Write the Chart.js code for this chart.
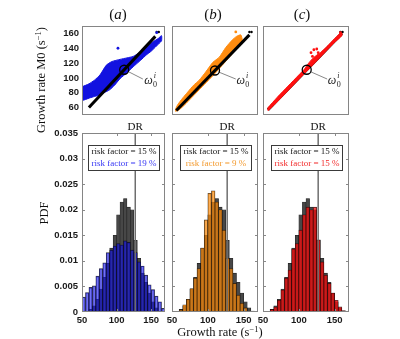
<!DOCTYPE html>
<html>
<head>
<meta charset="utf-8">
<script src="https://cdn.jsdelivr.net/npm/chart.js@4.4.0/dist/chart.umd.min.js"></script>
<style>
  body { margin: 0; background: #fff; }
  #wrap { position: relative; width: 400px; height: 339px; overflow: hidden; background: #fff; }
  canvas { position: absolute; left: 0; top: 0; }
  .lbl { position: absolute; font-family: "Liberation Serif", "Times New Roman", serif; color: #111; white-space: nowrap; transform: translate(-50%, -50%); }
  .rot { transform: translate(-50%, -50%) rotate(-90deg); }
  .sup { font-size: 0.68em; position: relative; top: -0.45em; }
</style>
</head>
<body>
<div id="wrap">
  <canvas id="topA" width="400" height="339"></canvas>
  <canvas id="topB" width="400" height="339"></canvas>
  <canvas id="topC" width="400" height="339"></canvas>
  <canvas id="histA" width="400" height="339"></canvas>
  <canvas id="histB" width="400" height="339"></canvas>
  <canvas id="histC" width="400" height="339"></canvas>

  <div class="lbl" style="left:118px;top:14px;font-size:15px;">(<i>a</i>)</div>
  <div class="lbl" style="left:213px;top:14px;font-size:15px;">(<i>b</i>)</div>
  <div class="lbl" style="left:302px;top:14px;font-size:15px;">(<i>c</i>)</div>
  <div class="lbl rot" style="left:41px;top:80px;font-size:12.5px;">Growth rate M0 (s<span class="sup">−1</span>)</div>
  <div class="lbl rot" style="left:44px;top:213px;font-size:12.5px;">PDF</div>
  <div class="lbl" style="left:220px;top:332px;font-size:12.5px;">Growth rate (s<span class="sup">−1</span>)</div>
</div>

<script>
// axis ticks
const rateTicks = [60, 80, 100, 120, 140, 160];
const growthTicks = [50, 100, 150];
const pdfTicks = [0, 0.005, 0.01, 0.015, 0.02, 0.025, 0.03, 0.035];
const pdfTickLabels = ['0', '0.005', '0.01', '0.015', '0.02', '0.025', '0.03', '0.035'];
const riskLabels = ['risk factor = 15 %', 'risk factor = 19 %', 'risk factor = 9 %', 'risk factor = 15 %'];
const drRate = 127;

// histogram bins (growth rate, s^-1)
const binCenters = [52.5, 57.5, 62.5, 67.5, 72.5, 77.5, 82.5, 87.5, 92.5, 97.5, 102.5, 107.5,
                    112.5, 117.5, 122.5, 127.5, 132.5, 137.5, 142.5, 147.5, 152.5, 157.5, 162.5, 167.5];
// reference run, risk factor 15 % (grey)
const pdfRef15 = [0, 0, 0.0005, 0.0012, 0.0025, 0.0045, 0.0068, 0.0095, 0.0125, 0.0150, 0.0190, 0.0215,
                  0.0222, 0.0205, 0.0200, 0.0140, 0.0105, 0.0076, 0.0058, 0.0037, 0.0020, 0.0008, 0.0002, 0];
const pdfA19 = [0.0029, 0.0038, 0.0048, 0.0051, 0.0070, 0.0085, 0.0096, 0.0116, 0.0121, 0.0129, 0.0134, 0.0131,
                0.0139, 0.0136, 0.0121, 0.0116, 0.0098, 0.0090, 0.0072, 0.0053, 0.0044, 0.0031, 0.0020, 0.0007];
const pdfB9 = [0, 0, 0.0004, 0.0014, 0.0025, 0.0046, 0.0066, 0.0085, 0.0125, 0.0180, 0.0232, 0.0237,
               0.0215, 0.0200, 0.0160, 0.0105, 0.0085, 0.0056, 0.0033, 0.0017, 0.0008, 0, 0, 0];
const pdfC15 = [0, 0, 0.0005, 0.0010, 0.0023, 0.0043, 0.0066, 0.0082, 0.0123, 0.0134, 0.0160, 0.0190,
                0.0205, 0.0200, 0.0205, 0.0141, 0.0098, 0.0072, 0.0056, 0.0037, 0.0023, 0.0010, 0.0003, 0];

// scatter clouds (outline of the dense point clouds), [M, M0]
const cloudATop = [[50, 88], [60, 92], [68, 97], [76, 104], [85, 117], [93, 122], [105, 125], [115, 127],
                   [124, 129], [131, 133], [138, 138], [146, 144], [153, 149], [160, 153], [165, 157]];
const cloudABottom = [[165, 150], [162, 147], [150, 136], [143, 131], [135, 124], [124, 115], [115, 107],
                      [105, 99], [97, 90], [90, 84], [82, 80], [76, 77], [68, 75], [61, 73], [50, 70]];
const cloudBTop = [[55, 58], [58, 64], [65, 73], [72, 81], [80, 90], [88, 97], [97, 108], [107, 121],
                   [116, 128], [125, 141], [134, 151], [140, 156], [146, 158]];
const cloudBBottom = [[148, 150], [140, 139], [130, 128], [120, 117], [110, 106], [100, 96], [90, 86],
                      [80, 76], [70, 66], [60, 57], [55, 55]];
const cloudCTop = [[57, 60], [70, 74], [85, 89], [100, 104], [108, 112], [113, 119], [118, 125], [124, 130],
                   [130, 134], [140, 143], [150, 153], [160, 162]];
const cloudCBottom = [[160, 157], [150, 148], [140, 138], [120, 118], [100, 98], [80, 78], [65, 63], [57, 56]];
const strayA = [[102, 140], [158, 161]];
const strayB = [[139, 162]];
const strayC = [[117, 134], [121, 138], [125, 139], [127, 134], [119, 129], [158, 161]];
const strayBlack = [[158, 162], [161, 162]];

// identity line of the deterministic model, and the marked point
const diagA = [[60, 60], [156, 156]];
const diagB = [[56, 56], [158, 158]];
const diagC = [[57, 57], [160, 160]];
const omegaA = [111, 111];
const omegaB = [110, 110];
const omegaC = [111, 111];
const pointerA = [[117, 108.5], [138, 98.5]];
const pointerB = [[115, 108], [139, 98.5]];
const pointerC = [[116, 108.5], [139.5, 98.5]];

const tickFont = { family: '"Liberation Sans", Arial, sans-serif', size: 9.5, weight: 'bold' };
const serif = '"Liberation Serif", "Times New Roman", serif';

const deco = {
  topA: { omega: [140, 96] },
  topB: { omega: [140, 96] },
  topC: { omega: [140.5, 96] },
  histA: { dr: drRate, legend: [[riskLabels[0], '#111'], [riskLabels[1], '#3434f4']], ticks: true },
  histB: { dr: drRate, legend: [[riskLabels[0], '#111'], [riskLabels[2], '#f39a2e']], ticks: true },
  histC: { dr: drRate, legend: [[riskLabels[0], '#111'], [riskLabels[3], '#f22a2a']], ticks: true }
};

const panelDeco = {
  id: 'panelDeco',
  afterDatasetsDraw(chart) {
    const d = deco[chart.canvas.id] || {};
    const { ctx, chartArea: a } = chart;
    const xs = chart.scales.x, ys = chart.scales.y;
    ctx.save();
    if (d.ticks) {
      ctx.strokeStyle = '#8a8a8a';
      ctx.lineWidth = 1;
      ctx.beginPath();
      growthTicks.slice(1).forEach(v => {
        const px = Math.round(xs.getPixelForValue(v)) + 0.5;
        ctx.moveTo(px, a.top); ctx.lineTo(px, a.top + 3);
        ctx.moveTo(px, a.bottom); ctx.lineTo(px, a.bottom - 3);
      });
      pdfTicks.slice(1, -1).forEach(v => {
        const py = Math.round(ys.getPixelForValue(v)) + 0.5;
        ctx.moveTo(a.left, py); ctx.lineTo(a.left + 3, py);
        ctx.moveTo(a.right, py); ctx.lineTo(a.right - 3, py);
      });
      ctx.stroke();
    }
    if (d.dr !== undefined) {
      const px = xs.getPixelForValue(d.dr);
      ctx.strokeStyle = '#6e6e6e';
      ctx.lineWidth = 1.5;
      ctx.beginPath();
      ctx.moveTo(px, a.top); ctx.lineTo(px, a.bottom);
      ctx.stroke();
      ctx.fillStyle = '#111';
      ctx.font = '11px ' + serif;
      ctx.textAlign = 'center';
      ctx.textBaseline = 'alphabetic';
      ctx.fillText('DR', px, a.top - 3);
    }
    if (d.legend) {
      ctx.font = '9px ' + serif;
      const w = Math.round(Math.max(...d.legend.map(l => ctx.measureText(l[0]).width)) + 6);
      const left = Math.round((a.left + a.right) / 2 - w / 2);
      const top = Math.round(a.top + 12);
      const h = 25;
      ctx.fillStyle = '#fff';
      ctx.fillRect(left, top, w, h);
      ctx.strokeStyle = '#3a3a3a';
      ctx.lineWidth = 1;
      ctx.strokeRect(left + 0.5, top + 0.5, w, h);
      ctx.textAlign = 'center';
      ctx.textBaseline = 'middle';
      d.legend.forEach((l, i) => {
        ctx.fillStyle = l[1];
        ctx.fillText(l[0], left + w / 2 + 0.5, top + 7 + i * 11.5);
      });
    }
    if (d.omega) {
      const px = xs.getPixelForValue(d.omega[0]);
      const py = ys.getPixelForValue(d.omega[1]);
      ctx.fillStyle = '#222';
      ctx.textAlign = 'left';
      ctx.textBaseline = 'middle';
      ctx.font = 'italic 12px ' + serif;
      ctx.fillText('ω', px, py);
      const w = ctx.measureText('ω').width;
      ctx.font = '8px ' + serif;
      ctx.fillText('0', px + w + 0.3, py + 4);
      ctx.font = 'italic 8px ' + serif;
      ctx.fillText('i', px + w + 1, py - 5);
    }
    // axes frame
    ctx.strokeStyle = '#858585';
    ctx.lineWidth = 1;
    ctx.strokeRect(a.left + 0.5, a.top + 0.5, a.right - a.left - 1, a.bottom - a.top - 1);
    ctx.restore();
  }
};
Chart.register(panelDeco);

const toXY = pts => pts.map(p => ({ x: p[0], y: p[1] }));

function scatterPanel(id, plot, showY, cloud, colour, diag, omega, pointer, stray, cloudOnTop) {
  const polygon = cloud[0].concat(cloud[1], [cloud[0][0]]);
  return new Chart(document.getElementById(id), {
    type: 'scatter',
    data: {
      datasets: [
        { data: toXY([omega]), pointRadius: 4.5, pointBackgroundColor: 'rgba(0,0,0,0)',
          pointBorderColor: '#000', pointBorderWidth: 1.3, order: 0 },
        { data: toXY(pointer), showLine: true, borderColor: '#7a7a7a', borderWidth: 0.9,
          pointRadius: 0, order: 1 },
        { data: toXY(stray), pointRadius: 1.4, pointBackgroundColor: colour, pointBorderWidth: 0, order: 2 },
        { data: toXY(strayBlack), pointRadius: 1.2, pointBackgroundColor: '#000', pointBorderWidth: 0, order: 3 },
        { data: toXY(diag), showLine: true, borderColor: '#000', borderWidth: 3, pointRadius: 0,
          order: cloudOnTop ? 5 : 4 },
        { data: toXY(polygon), showLine: true, fill: 'shape', backgroundColor: colour, borderColor: colour,
          borderWidth: 1, pointRadius: 0, tension: 0.2, order: cloudOnTop ? 4 : 5 }
      ]
    },
    options: {
      responsive: false, animation: false, devicePixelRatio: 1,
      layout: { padding: { left: showY ? plot.l - 40 : plot.l, right: 400 - plot.r, top: plot.t, bottom: 339 - plot.b } },
      plugins: { legend: { display: false }, tooltip: { enabled: false } },
      scales: {
        x: { type: 'linear', min: 50, max: 170, display: false },
        y: {
          type: 'linear', min: 50, max: 170, display: showY,
          afterFit: s => { s.width = showY ? 40 : 0; },
          afterBuildTicks: s => { s.ticks = rateTicks.map(v => ({ value: v })); },
          grid: { display: false, drawTicks: false }, border: { display: false },
          ticks: { font: tickFont, color: '#1a1a1a', padding: 3 }
        }
      }
    }
  });
}

function histPanel(id, plot, showY, values, colour) {
  return new Chart(document.getElementById(id), {
    type: 'bar',
    data: {
      datasets: [
        { data: binCenters.map((x, i) => ({ x, y: values[i] })), backgroundColor: colour,
          borderColor: 'rgba(10,10,10,0.8)', borderWidth: 0.6, grouped: false,
          barPercentage: 1, categoryPercentage: 1, order: 0 },
        { data: binCenters.map((x, i) => ({ x, y: pdfRef15[i] })), backgroundColor: '#474747',
          borderColor: 'rgba(10,10,10,0.9)', borderWidth: 0.6, grouped: false,
          barPercentage: 1, categoryPercentage: 1, order: 1 }
      ]
    },
    options: {
      responsive: false, animation: false, devicePixelRatio: 1,
      layout: { padding: { left: showY ? plot.l - 40 : plot.l, right: 400 - plot.r, top: plot.t, bottom: 339 - plot.b - 20 } },
      plugins: { legend: { display: false }, tooltip: { enabled: false } },
      scales: {
        x: {
          type: 'linear', min: 50, max: 170, offset: false,
          afterFit: s => { s.height = 20; },
          afterBuildTicks: s => { s.ticks = growthTicks.map(v => ({ value: v })); },
          grid: { display: false, drawTicks: false }, border: { display: false },
          ticks: { font: tickFont, color: '#1a1a1a', padding: 3, maxRotation: 0 }
        },
        y: {
          type: 'linear', min: 0, max: 0.035, display: showY,
          afterFit: s => { s.width = showY ? 40 : 0; },
          afterBuildTicks: s => { s.ticks = pdfTicks.map(v => ({ value: v })); },
          grid: { display: false, drawTicks: false }, border: { display: false },
          ticks: { font: tickFont, color: '#1a1a1a', padding: 4,
                   callback: (v, i) => pdfTickLabels[i] }
        }
      }
    }
  });
}

const colA = 'rgba(20,20,235,0.6)';
const colB = 'rgba(255,140,10,0.7)';
const colC = 'rgba(255,10,10,0.7)';

scatterPanel('topA', { l: 82, r: 165, t: 26, b: 115 }, true, [cloudATop, cloudABottom], '#1212e0', diagA, omegaA, pointerA, strayA, false);
scatterPanel('topB', { l: 172, r: 258, t: 26, b: 115 }, false, [cloudBTop, cloudBBottom], '#ff8c10', diagB, omegaB, pointerB, strayB, false);
scatterPanel('topC', { l: 263, r: 349, t: 26, b: 115 }, false, [cloudCTop, cloudCBottom], '#ff1010', diagC, omegaC, pointerC, strayC, true);

histPanel('histA', { l: 82, r: 165, t: 133, b: 312 }, true, pdfA19, colA);
histPanel('histB', { l: 172, r: 258, t: 133, b: 312 }, false, pdfB9, colB);
histPanel('histC', { l: 263, r: 349, t: 133, b: 312 }, false, pdfC15, colC);
</script>
</body>
</html>
